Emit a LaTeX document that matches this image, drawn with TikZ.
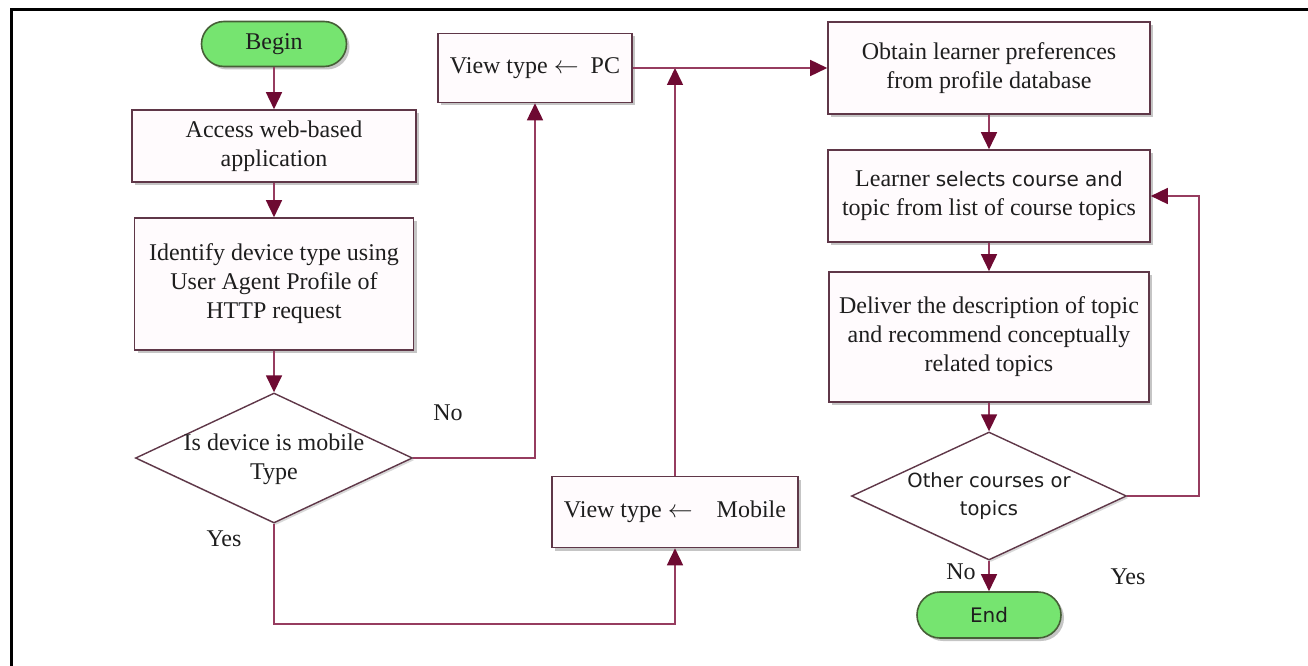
\documentclass[tikz,border=0pt]{standalone}
\usepackage{fontspec}
\setmainfont{Liberation Serif}
\newfontfamily\tahoma{DejaVu Sans}
\usetikzlibrary{shapes.geometric,shapes.misc,arrows.meta,shadows}
\definecolor{linecol}{RGB}{150,60,95}
\definecolor{tipcol}{RGB}{110,10,50}
\definecolor{boxborder}{RGB}{95,55,72}
\definecolor{boxfill}{RGB}{255,251,253}
\definecolor{termfill}{RGB}{118,228,112}
\definecolor{termborder}{RGB}{70,95,55}
\definecolor{txt}{RGB}{30,30,30}
\tikzset{
  base/.style={font=\fontsize{24}{29}\selectfont, text=txt, align=center, inner sep=0pt},
  procbox/.style={base, rectangle, draw=boxborder, line width=1.6pt, fill=boxfill,
    drop shadow={shadow xshift=3pt, shadow yshift=-3pt, opacity=0.45, fill=gray}},
  termbox/.style={base, rounded rectangle, draw=termborder, line width=1.6pt, fill=termfill,
    drop shadow={shadow xshift=3pt, shadow yshift=-3pt, opacity=0.45, fill=gray}},
  decision/.style={diamond, draw=boxborder, line width=1.4pt, fill=white, inner sep=0pt,
    drop shadow={shadow xshift=2pt, shadow yshift=-2pt, opacity=0.3, fill=gray}},
  lbl/.style={base},
  arr/.style={draw=linecol, line width=1.6pt, -{Triangle[length=17pt,width=16pt,color=tipcol]}}
}
\begin{document}
\begin{tikzpicture}[x=1pt,y=-1pt]
\useasboundingbox (0,0) rectangle (1308,666);
\fill[white] (0,0) rectangle (1308,666);
\draw[line width=3pt, black] (11,666) -- (11,9.5) -- (1308,9.5);

% left column
\node[termbox, minimum width=145pt, minimum height=45pt] (begin) at (274,44) {Begin};
\node[procbox, minimum width=284pt, minimum height=72pt] (access) at (274,146) {Access web-based\\application};
\node[procbox, minimum width=279pt, minimum height=132pt] (identify) at (274,284) {Identify device type using\\User Agent Profile of\\HTTP request};
\node[decision, minimum width=277pt, minimum height=130pt] (d1) at (274,458) {};
\node[base] (d1t) at (274,459) {Is device is mobile\\Type};

% middle column
\node[procbox, minimum width=194pt, minimum height=69pt] (pc) at (535,68) {View type $\leftarrow$\ \ PC};
\node[procbox, minimum width=246pt, minimum height=71pt] (mobile) at (675,512) {View type $\leftarrow$\quad Mobile};

% right column
\node[procbox, minimum width=322pt, minimum height=92pt] (obtain) at (989,68) {Obtain learner preferences\\from profile database};
\node[procbox, minimum width=322pt, minimum height=92pt] (learner) at (989,196) {Learner {\tahoma\fontsize{20}{29}\selectfont selects course and}\\topic from list of course topics};
\node[procbox, minimum width=320pt, minimum height=130pt] (deliver) at (989,337) {Deliver the description of topic\\and recommend conceptually\\related topics};
\node[decision, minimum width=275pt, minimum height=128pt] (d2) at (989,496) {};
\node[base, font=\tahoma\fontsize{19.5}{28}\selectfont] (d2t) at (989,496) {Other courses or\\topics};
\node[termbox, minimum width=144pt, minimum height=46pt, font=\tahoma\fontsize{20}{28}\selectfont] (end) at (989,615) {End};

% labels
\node[lbl] (no1) at (448,413) {No};
\node[lbl] (yes1) at (224,539) {Yes};
\node[lbl] (no2) at (961,572) {No};
\node[lbl] (yes2) at (1128,577) {Yes};

% connectors
\draw[arr] (begin.south) -- (access.north);
\draw[arr] (access.south) -- (identify.north);
\draw[arr] (identify.south) -- (d1.north);
\draw[arr] (d1.east) -| (pc.south);
\draw[arr] (d1.south) -- ++(0,100) -| (mobile.south);
\draw[arr] (mobile.north) -- (mobile.north |- pc.east);
\draw[arr] (pc.east) -- (obtain.west);
\draw[arr] (obtain.south) -- (learner.north);
\draw[arr] (learner.south) -- (deliver.north);
\draw[arr] (deliver.south) -- (d2.north);
\draw[arr] (d2.south) -- (end.north);
\draw[arr] (d2.east) -- ++(72,0) |- (learner.east);
\end{tikzpicture}
\end{document}
